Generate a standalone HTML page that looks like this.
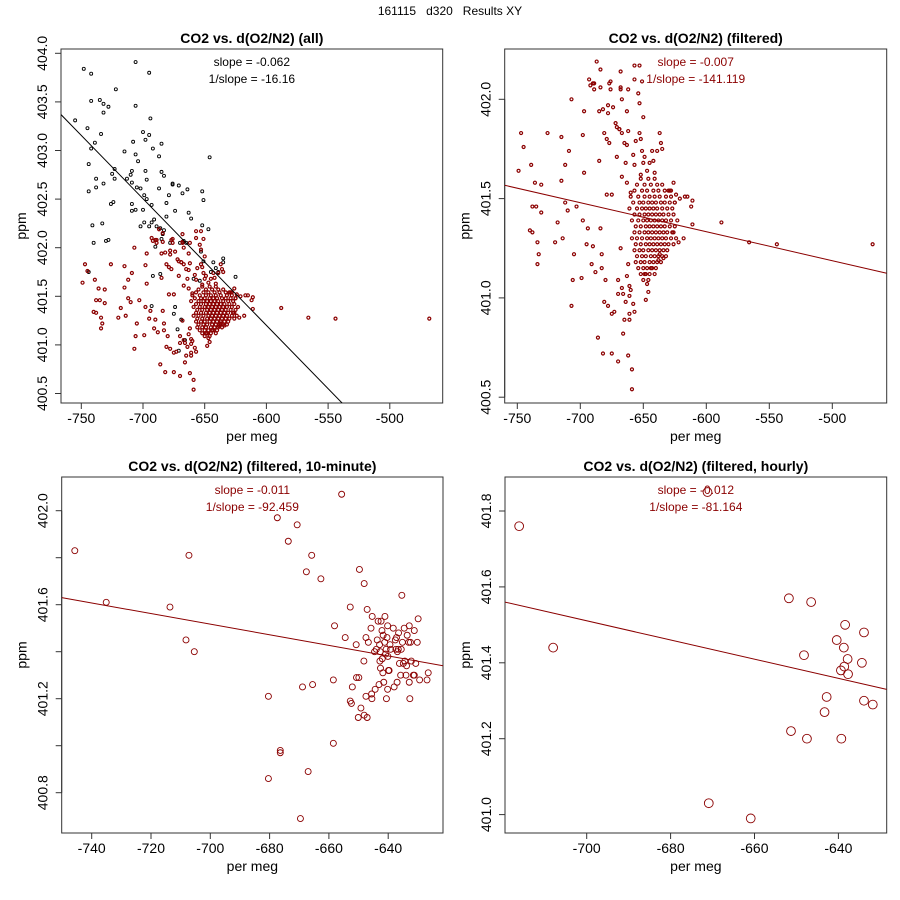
<!DOCTYPE html>
<html><head><meta charset="utf-8"><style>
html,body{margin:0;padding:0;background:#fff}
svg{display:block;font-family:"Liberation Sans",Arial,sans-serif}
</style></head><body>
<svg id="chart" width="900" height="900" viewBox="0 0 900 900">
<rect x="0" y="0" width="900" height="900" fill="#fff"/>
<text x="450" y="15" text-anchor="middle" font-size="12" style="white-space:pre" xml:space="preserve">161115   d320   Results XY</text>
</svg>
<script>
// ---- data: filtered points (red, scattered) ----
const filtX=[-749,-747,-745,-739,-736,-731,-738,-735,-731,-740,-738,-734,-733,-734,-726,-715,-715,-712,-712,-714,-718,-720,-710,-709,-707,-707,-706,-705,-703,-699,-698,-697,-697,-698,-694,-695,-693,-692,-690,-689,-689,-690,-691,-688,-687,-684,-684,-685,-684,-685,-686,-683,-683,-682,-681,-680,-682,-681,-679,-678,-679,-678,-678,-677,-676,-677,-676,-675,-675,-675,-674,-673,-672,-671,-671,-670,-670,-669,-670,-668,-668,-668,-669,-668,-667,-667,-667,-667,-666,-666,-665,-665,-664,-664,-663,-663,-663,-663,-662,-662,-662,-662,-661,-661,-661,-661,-660,-660,-659,-659,-658,-658,-657,-657,-657,-657,-656,-654,-653,-653,-653,-652,-652,-651,-651,-650,-650,-649,-649,-648,-647,-647,-646,-645,-644,-643,-642,-641,-639,-638,-637,-636,-635,-637,-634,-630,-628,-626,-626,-625,-624,-622,-621,-618,-617,-615,-612,-611,-611,-588,-566,-544,-468];
const filtY=[401.64,401.83,401.76,401.67,401.58,401.57,401.46,401.46,401.43,401.34,401.33,401.28,401.22,401.17,401.83,401.81,401.59,401.67,401.48,401.30,401.38,401.28,401.44,401.74,402.00,400.96,401.09,401.22,401.46,401.10,401.82,401.94,401.63,401.39,401.35,401.27,402.10,402.07,402.08,402.05,402.08,401.26,401.17,401.13,402.19,402.06,402.15,401.69,401.35,401.94,400.80,401.22,401.15,401.95,401.83,401.09,400.72,400.98,401.80,401.97,401.52,401.93,400.96,402.08,402.09,401.78,402.05,400.72,400.92,401.52,401.96,400.93,401.88,401.86,401.71,400.68,401.09,401.85,401.02,402.14,402.06,402.05,401.85,401.25,402.00,401.83,401.61,401.05,401.02,400.82,400.89,401.78,401.68,400.98,401.77,401.94,401.58,401.11,401.84,401.17,402.05,400.71,401.06,400.89,400.92,401.01,401.53,401.04,400.64,400.54,401.72,400.97,400.93,402.17,402.10,401.67,401.79,402.03,401.98,402.17,401.83,401.80,401.62,401.74,402.09,401.91,401.68,401.71,401.12,400.99,401.07,401.64,401.03,401.68,401.15,401.74,401.69,401.63,401.74,401.19,401.83,401.78,401.75,401.22,401.20,401.54,401.54,401.58,401.33,401.48,401.52,401.28,401.50,401.30,401.51,401.51,401.46,401.49,401.37,401.38,401.28,401.27,401.27];
// ---- data: dense core of filtered points, by ppm row ----
const coreRowY=[401.60,401.57,401.54,401.51,401.48,401.45,401.42,401.39,401.36,401.33,401.30,401.27,401.24,401.21,401.18,401.15,401.12,401.09];
const coreRowX=[[-652,-646,-641],[-655,-649,-644,-639,-635],[-657,-651,-647,-642,-638,-633,-629],[-660,-654,-649,-645,-641,-637,-632,-628],[-658,-653,-650,-646,-643,-640,-636,-633,-629,-625],[-661,-655,-651,-648,-645,-642,-639,-635,-631,-627],[-657,-653,-649,-646,-643,-640,-637,-634,-630,-626],[-659,-654,-650,-647,-644,-641,-638,-635,-632,-628,-623],[-656,-652,-648,-645,-642,-639,-636,-633,-629,-625],[-657,-653,-649,-646,-643,-640,-637,-634,-631,-627],[-659,-655,-651,-647,-644,-641,-638,-635,-632,-628,-624],[-656,-652,-648,-645,-642,-639,-636,-633,-630,-626],[-657,-653,-650,-646,-643,-640,-637,-634,-631],[-655,-651,-648,-644,-641,-638,-635,-632],[-656,-652,-649,-645,-642,-639,-636],[-654,-650,-647,-643,-640],[-652,-648,-645,-641],[-650,-646]];
// ---- data: excluded points (black, panel "all") ----
const exclX=[-748,-742,-706,-695,-722,-742,-735,-732,-732,-728,-755,-745,-706,-694,-742,-739,-734,-744,-744,-738,-738,-732,-725,-723,-723,-726,-724,-741,-733,-730,-728,-740,-715,-708,-706,-704,-700,-698,-695,-692,-685,-687,-685,-683,-687,-698,-697,-709,-710,-713,-709,-705,-702,-699,-697,-693,-709,-709,-700,-706,-702,-699,-695,-693,-691,-689,-686,-684,-683,-681,-681,-679,-676,-676,-671,-668,-664,-661,-663,-652,-651,-646,-647,-652,-674,-670,-678,-690,-685,-667,-665,-653,-651,-643,-641,-645,-639,-635,-635,-625,-686,-692,-693,-674,-675,-669,-672,-666,-671,-744,-659,-654];
const exclY=[403.84,403.79,403.91,403.80,403.63,403.51,403.52,403.48,403.39,403.45,403.31,403.23,403.46,403.33,403.02,403.08,403.17,402.86,402.58,402.71,402.62,402.66,402.76,402.81,402.71,402.45,402.47,402.23,402.25,402.07,402.08,402.05,402.99,403.09,402.96,402.89,403.19,403.11,403.16,403.02,403.07,402.94,402.78,402.74,402.61,402.79,402.70,402.79,402.75,402.71,402.67,402.62,402.61,402.54,402.50,402.44,402.45,402.38,402.39,402.39,402.22,402.26,402.22,402.26,402.29,402.22,402.20,402.14,402.18,402.32,402.46,402.54,402.66,402.65,402.64,402.56,402.60,402.30,402.36,402.58,402.49,402.93,402.19,402.23,402.38,402.05,402.05,402.01,402.09,402.07,402.05,401.96,401.86,401.85,401.79,401.75,401.75,401.89,401.85,401.70,401.73,401.71,401.40,401.39,401.32,401.26,401.16,401.05,400.94,401.75,401.68,401.66];
// ---- data: 10-minute means ----
const tenX=[-745.7,-735.1,-713.6,-707.2,-708.2,-705.4,-680.4,-680.4,-677.4,-676.4,-676.4,-673.7,-670.7,-669.6,-668.9,-667.6,-667.0,-665.8,-665.5,-662.7,-658.5,-658.5,-658.1,-655.7,-654.5,-652.8,-652.8,-652.4,-652.1,-650.8,-650.7,-649.9,-650.1,-649.7,-649.2,-648.2,-648.1,-648.1,-647.5,-647.1,-647.5,-647.1,-646.7,-645.8,-645.6,-645.4,-645.5,-644.6,-644.4,-644.0,-643.7,-643.4,-643.1,-642.9,-642.8,-642.7,-642.6,-642.4,-642.1,-641.8,-642.0,-641.7,-641.5,-641.2,-641.1,-640.9,-640.7,-640.6,-640.4,-640.2,-640.2,-640.1,-639.9,-639.7,-639.4,-639.2,-638.3,-638.0,-637.6,-637.4,-637.2,-637.0,-636.9,-636.6,-636.5,-636.2,-635.8,-635.6,-635.4,-635.2,-634.9,-634.6,-634.4,-634.0,-633.8,-633.6,-633.1,-632.9,-632.9,-632.7,-632.5,-632.2,-631.5,-631.2,-630.7,-630.2,-629.9,-629.4,-626.9,-626.5,-631.2];
const tenY=[401.83,401.61,401.59,401.81,401.45,401.40,401.21,400.86,401.97,400.98,400.97,401.87,401.94,400.69,401.25,401.74,400.89,401.81,401.26,401.71,401.28,401.01,401.51,402.07,401.46,401.59,401.19,401.18,401.25,401.43,401.29,401.29,401.12,401.75,401.16,401.36,401.69,401.13,401.21,401.12,401.46,401.58,401.44,401.50,401.22,401.55,401.20,401.40,401.24,401.41,401.45,401.53,401.26,401.43,401.36,401.40,401.33,401.53,401.49,401.31,401.37,401.47,401.27,401.44,401.55,401.39,401.41,401.20,401.46,401.51,401.24,401.38,401.32,401.32,401.43,401.41,401.50,401.25,401.45,401.41,401.46,401.27,401.40,401.41,401.48,401.35,401.30,401.41,401.64,401.44,401.35,401.50,401.36,401.30,401.34,401.47,401.44,401.51,401.27,401.20,401.44,401.36,401.30,401.49,401.35,401.44,401.54,401.28,401.28,401.31,401.30];
// ---- data: hourly means ----
const hrX=[-716.1,-708.0,-670.9,-660.9,-651.8,-646.5,-651.3,-648.2,-647.5,-643.3,-642.8,-640.4,-639.3,-639.4,-638.7,-638.4,-638.6,-637.8,-637.7,-634.4,-633.9,-633.9,-631.8,-671.2];
const hrY=[401.76,401.44,401.03,400.99,401.57,401.56,401.22,401.42,401.20,401.27,401.31,401.46,401.20,401.38,401.44,401.50,401.39,401.41,401.37,401.40,401.48,401.30,401.29,401.85];
// ---- fit lines (endpoints in data units) ----
const fitAllX=[-766.5,-538.5], fitAllY=[403.37,400.40];
const fitFiltX=[-760,-456.8], fitFiltY=[401.567,401.124];
const fitTenX=[-750.1,-621.4], fitTenY=[401.63,401.34];
const fitHrX=[-719.5,-628.5], fitHrY=[401.56,401.33];
// ---- ticks ----
const ticksTopX=[-750,-700,-650,-600,-550,-500];
const ticksAllY=[400.5,401.0,401.5,402.0,402.5,403.0,403.5,404.0];
const ticksFiltY=[400.5,401.0,401.5,402.0];
const ticksTenX=[-740,-720,-700,-680,-660,-640];
const ticksTenY=[400.8,401.0,401.2,401.4,401.6,401.8,402.0];
const labelsTenY=[400.8,401.2,401.6,402.0];
const ticksHrX=[-700,-680,-660,-640];
const ticksHrY=[401.0,401.2,401.4,401.6,401.8];

const NS='http://www.w3.org/2000/svg';
const svg=document.getElementById('chart');
const RED='#8b0000';
function mk(tag,attrs,parent){const e=document.createElementNS(NS,tag);for(const k in attrs)e.setAttribute(k,attrs[k]);(parent||svg).appendChild(e);return e;}
const coreX=[],coreY=[];
coreRowX.forEach((row,i)=>row.forEach(x=>{coreX.push(x);coreY.push(coreRowY[i]);}));
const allFX=filtX.concat(coreX), allFY=filtY.concat(coreY);

function panel(p){
  const g=mk('g',{});
  
  
  const sx=v=>p.x0+(v-p.xv0)*p.kx, sy=v=>p.y0-(v-p.yv0)*p.ky;
  const box=mk('rect',{x:p.bx1,y:p.by1,width:p.bx2-p.bx1,height:p.by2-p.by1,fill:'none',stroke:'#333','stroke-width':1},g);
  
  const t=mk('text',{x:(p.bx1+p.bx2)/2,y:p.by1-6,'text-anchor':'middle','font-size':14,'font-weight':'bold'},g);
  t.textContent=p.title;
  const xa=mk('g',{},g);
  mk('line',{x1:sx(p.xt[0]),x2:sx(p.xt[p.xt.length-1]),y1:p.by2,y2:p.by2,stroke:'#333'},xa);
  p.xt.forEach(v=>{mk('line',{x1:sx(v),x2:sx(v),y1:p.by2,y2:p.by2+6,stroke:'#333'},xa);
    const l=mk('text',{x:sx(v),y:p.by2+20,'text-anchor':'middle','font-size':14},xa);l.textContent=v;
    });
  const xt=mk('text',{x:(p.bx1+p.bx2)/2,y:p.by2+38,'text-anchor':'middle','font-size':14},g);xt.textContent='per meg';
  
  const ya=mk('g',{},g);
  mk('line',{x1:p.bx1,x2:p.bx1,y1:sy(p.yt[0]),y2:sy(p.yt[p.yt.length-1]),stroke:'#333'},ya);
  p.yt.forEach(v=>{mk('line',{x1:p.bx1-6,x2:p.bx1,y1:sy(v),y2:sy(v),stroke:'#333'},ya);});
  p.yl.forEach(v=>{const lx=p.bx1-14;const l=mk('text',{x:lx,y:sy(v),'text-anchor':'middle','font-size':14,transform:`rotate(-90 ${lx} ${sy(v)})`},ya);
    l.textContent=v.toFixed(1);});
  const yx=p.bx1-35;const yt=mk('text',{x:yx,y:(p.by1+p.by2)/2,'text-anchor':'middle','font-size':14,transform:`rotate(-90 ${yx} ${(p.by1+p.by2)/2})`},g);
  yt.textContent='ppm';
  p.series.forEach(s=>{
    const sg=mk('g',{},g);
    s.x.forEach((x,i)=>{const c=mk('circle',{cx:sx(x),cy:sy(s.y[i]),r:s.r,fill:'none',stroke:s.c,'stroke-width':s.w},sg);
      });
  });
  const cp=mk('clipPath',{id:'cp'+p.id},g);mk('rect',{x:p.bx1,y:p.by1,width:p.bx2-p.bx1,height:p.by2-p.by1},cp);
  const fl=mk('line',{x1:sx(p.lx[0]),y1:sy(p.ly[0]),x2:sx(p.lx[1]),y2:sy(p.ly[1]),stroke:p.lc,'stroke-width':1,'clip-path':`url(#cp${p.id})`},g);
  
  p.notes.forEach((n,i)=>{const tx=mk('text',{x:(p.bx1+p.bx2)/2,y:p.by1+17+i*17,'text-anchor':'middle','font-size':12,fill:p.nc},g);
    tx.textContent=n;});
}
panel({id:1,name:'panel-all',title:'CO2 vs. d(O2/N2) (all)',bx1:61,by1:49,bx2:442.7,by2:403,x0:81.3,xv0:-750,kx:1.234,y0:53.3,yv0:404,ky:97.2,
  xt:ticksTopX,yt:ticksAllY,yl:ticksAllY,lx:fitAllX,ly:fitAllY,lc:'#000',nc:'#000',notes:['slope = -0.062','1/slope = -16.16'],
  series:[{name:'excluded-points',x:exclX,y:exclY,r:1.5,c:'#000',w:0.9},{name:'filtered-points',x:allFX,y:allFY,r:1.5,c:RED,w:1.2}]});
panel({id:2,name:'panel-filtered',title:'CO2 vs. d(O2/N2) (filtered)',bx1:504.7,by1:49,bx2:886.7,by2:403,x0:517.3,xv0:-750,kx:1.26,y0:99.3,yv0:402,ky:198.6,
  xt:ticksTopX,yt:ticksFiltY,yl:ticksFiltY,lx:fitFiltX,ly:fitFiltY,lc:RED,nc:RED,notes:['slope = -0.007','1/slope = -141.119'],
  series:[{name:'filtered-points',x:allFX,y:allFY,r:1.5,c:RED,w:1.2}]});
panel({id:3,name:'panel-10-minute',title:'CO2 vs. d(O2/N2) (filtered, 10-minute)',bx1:61.7,by1:477,bx2:443,by2:833,x0:91.7,xv0:-740,kx:2.965,y0:510.7,yv0:402,ky:235,
  xt:ticksTenX,yt:ticksTenY,yl:labelsTenY,lx:fitTenX,ly:fitTenY,lc:RED,nc:RED,notes:['slope = -0.011','1/slope = -92.459'],
  series:[{name:'ten-minute-points',x:tenX,y:tenY,r:3,c:RED,w:0.9}]});
panel({id:4,name:'panel-hourly',title:'CO2 vs. d(O2/N2) (filtered, hourly)',bx1:505,by1:477,bx2:886.7,by2:833,x0:586.7,xv0:-700,kx:4.195,y0:511,yv0:401.8,ky:379.5,
  xt:ticksHrX,yt:ticksHrY,yl:ticksHrY,lx:fitHrX,ly:fitHrY,lc:RED,nc:RED,notes:['slope = -0.012','1/slope = -81.164'],
  series:[{name:'hourly-points',x:hrX,y:hrY,r:4.4,c:RED,w:0.9}]});
</script>
</body></html>
